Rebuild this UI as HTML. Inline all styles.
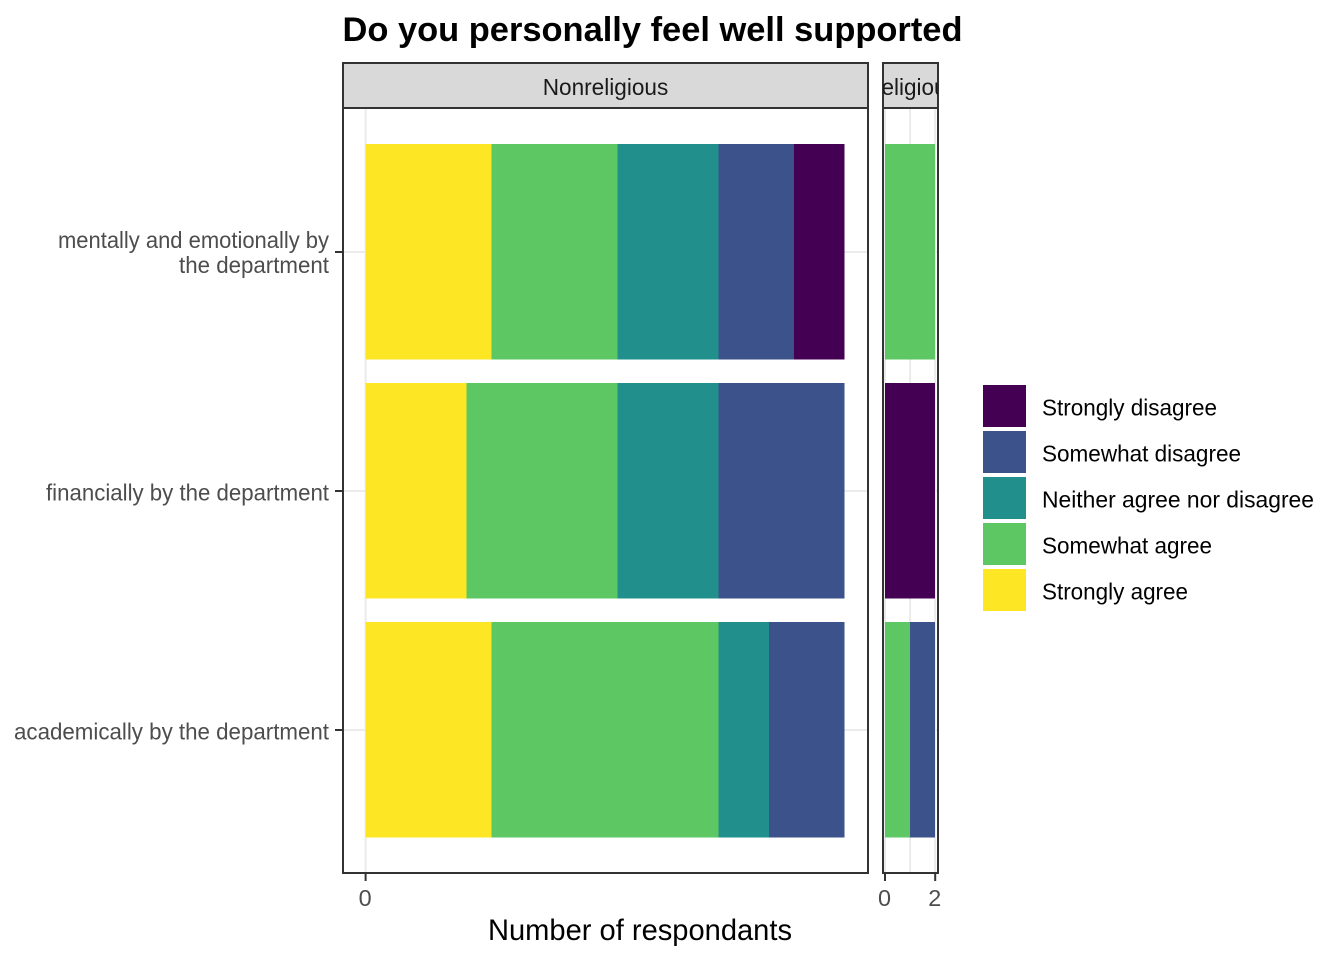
<!DOCTYPE html>
<html>
<head>
<meta charset="utf-8">
<title>Do you personally feel well supported</title>
<style>
html,body{margin:0;padding:0;background:#fff;}
svg{display:block;font-family:"Liberation Sans",Arial,sans-serif;}
</style>
</head>
<body>
<svg id="chart" xmlns="http://www.w3.org/2000/svg" width="1344" height="960" viewBox="0 0 1344 960"></svg>
<script>
const categories = ["academically by the department", "financially by the department", "mentally and emotionally by|the department"];
const levels = ["Strongly agree", "Somewhat agree", "Neither agree nor disagree", "Somewhat disagree", "Strongly disagree"];
const legendOrder = ["Strongly disagree", "Somewhat disagree", "Neither agree nor disagree", "Somewhat agree", "Strongly agree"];
const panelNames = ["Nonreligious", "Religious"];
const nonreligiousAcademic = [5, 9, 2, 3, 0];
const nonreligiousFinancial = [4, 6, 4, 5, 0];
const nonreligiousMental = [5, 5, 4, 3, 2];
const religiousAcademic = [0, 1, 0, 1, 0];
const religiousFinancial = [0, 0, 0, 0, 2];
const religiousMental = [0, 2, 0, 0, 0];
const nonreligiousTicks = [0];
const religiousTicks = [0, 2];
const religiousGrid = [0, 1, 2];

const values = [
  [nonreligiousAcademic, nonreligiousFinancial, nonreligiousMental],
  [religiousAcademic, religiousFinancial, religiousMental]
];
const colorOf = {
  "Strongly disagree": "#440154",
  "Somewhat disagree": "#3b528b",
  "Neither agree nor disagree": "#21908c",
  "Somewhat agree": "#5dc863",
  "Strongly agree": "#fde725"
};
/* rendered label widths, to match the reference's narrower hinted text */
const labelWidth = {
  "academically by the department": 315,
  "financially by the department": 283,
  "mentally and emotionally by": 271,
  "the department": 150,
  "Strongly disagree": 175,
  "Somewhat disagree": 199,
  "Neither agree nor disagree": 272,
  "Somewhat agree": 170,
  "Strongly agree": 146,
  "Nonreligious": 125.5,
  "Religious": 92.5,
  "Number of respondants": 304,
  "Do you personally feel well supported": 620
};

const svg = document.getElementById("chart");
const NS = "http://www.w3.org/2000/svg";
const PANEL_TOP = 108, PANEL_BOTTOM = 873, STRIP_TOP = 63;
const panels = [
  {left: 343, right: 868, zero: 365.6, unit: 25.2, ticks: nonreligiousTicks, grid: nonreligiousTicks, labelShift: 0},
  {left: 883, right: 938, zero: 885, unit: 25.1, ticks: religiousTicks, grid: religiousGrid, labelShift: 1}
];

function make(tag, attrs, parent, text) {
  const el = document.createElementNS(NS, tag);
  for (const k in attrs) el.setAttribute(k, attrs[k]);
  if (text !== undefined) {
    el.textContent = text;
    if (labelWidth[text]) {
      el.setAttribute("textLength", labelWidth[text]);
      el.setAttribute("lengthAdjust", "spacingAndGlyphs");
    }
  }
  (parent || svg).appendChild(el);
  return el;
}
function xScale(p, v) { return panels[p].zero + v * panels[p].unit; }
function yScale(i) { return 730 - i * 239; }
const BAR_HEIGHT = 215.3;

/* title */
const title = make("text", {x: 342.5, y: 41, "font-size": 34.4, "font-weight": "bold", fill: "#000"}, svg, "Do you personally feel well supported");



panels.forEach(function (panel, p) {
  const clipId = "strip-clip-" + p;
  const defs = make("defs", {});
  const clip = make("clipPath", {id: clipId}, defs);
  make("rect", {x: panel.left, y: STRIP_TOP, width: panel.right - panel.left, height: PANEL_TOP - STRIP_TOP}, clip);

  const strip = make("rect", {x: panel.left, y: STRIP_TOP, width: panel.right - panel.left, height: PANEL_TOP - STRIP_TOP, fill: "#d9d9d9", stroke: "#333", "stroke-width": 2});
  
  

  const stripLabel = make("text", {x: (panel.left + panel.right) / 2 + panel.labelShift, y: 95, "text-anchor": "middle", "font-size": 23.4, fill: "#1a1a1a", "clip-path": "url(#" + clipId + ")"}, svg, panelNames[p]);
  
  

  const bg = make("rect", {x: panel.left, y: PANEL_TOP, width: panel.right - panel.left, height: PANEL_BOTTOM - PANEL_TOP, fill: "#fff"});
  
  

  panel.grid.forEach(function (g) {
    const line = make("line", {x1: xScale(p, g), x2: xScale(p, g), y1: PANEL_TOP, y2: PANEL_BOTTOM, stroke: "#ebebeb", "stroke-width": 2});
    
    
  });
  categories.forEach(function (c, i) {
    const line = make("line", {x1: panel.left, x2: panel.right, y1: yScale(i), y2: yScale(i), stroke: "#ebebeb", "stroke-width": 2});
    
    
  });

  categories.forEach(function (c, i) {
    let cum = 0;
    levels.forEach(function (lev, s) {
      const v = values[p][i][s];
      if (v > 0) {
        const bar = make("rect", {x: xScale(p, cum), y: yScale(i) - 108, width: xScale(p, cum + v) - xScale(p, cum), height: BAR_HEIGHT, fill: colorOf[lev], "shape-rendering": "crispEdges"});
        
        
      }
      cum += v;
    });
  });

  const border = make("rect", {x: panel.left, y: PANEL_TOP, width: panel.right - panel.left, height: PANEL_BOTTOM - PANEL_TOP, fill: "none", stroke: "#333", "stroke-width": 2});
  
  

  panel.ticks.forEach(function (t) {
    const tick = make("line", {x1: xScale(p, t), x2: xScale(p, t), y1: PANEL_BOTTOM, y2: PANEL_BOTTOM + 8, stroke: "#333", "stroke-width": 2});
    
    
    const label = make("text", {x: xScale(p, t) - 0.5, y: 906, "text-anchor": "middle", "font-size": 23.4, fill: "#4d4d4d"}, svg, String(t));
    
    
  });
});

/* y axis */
categories.forEach(function (c, i) {
  const tick = make("line", {x1: 335, x2: 343, y1: yScale(i), y2: yScale(i), stroke: "#333", "stroke-width": 2});
  
  
  const lines = c.split("|");
  const first = yScale(i) + 9.5 - (lines.length - 1) * 13.5;
  lines.forEach(function (ln, k) {
    const label = make("text", {x: 329, y: first + k * 25, "text-anchor": "end", "font-size": 23.4, fill: "#4d4d4d"}, svg, ln);
    
    
  });
});

/* x axis title */
const xTitle = make("text", {x: 640, y: 940, "text-anchor": "middle", "font-size": 29.3, fill: "#000"}, svg, "Number of respondants");



/* legend */
legendOrder.forEach(function (name, i) {
  const y = 385 + i * 46;
  const key = make("rect", {x: 983, y: y, width: 43, height: 42, fill: colorOf[name]});
  
  
  const label = make("text", {x: 1042, y: y + 30.5, "font-size": 23.4, fill: "#000"}, svg, name);
  
  
});
</script>
</body>
</html>
